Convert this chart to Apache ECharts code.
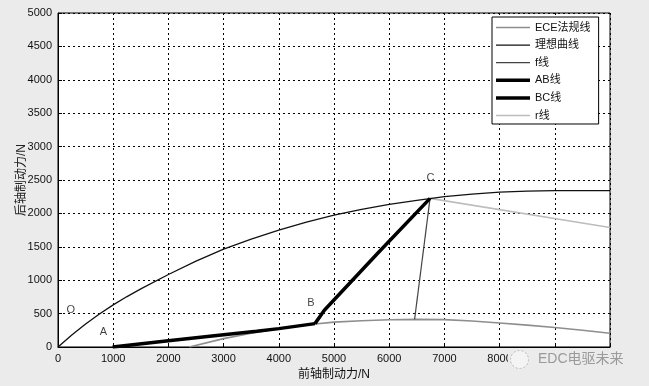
<!DOCTYPE html>
<html>
<head>
<meta charset="utf-8">
<script src="https://cdn.jsdelivr.net/npm/echarts@6/dist/echarts.min.js"></script>
<style>
html,body{margin:0;padding:0;background:#ebebeb;}
#c{width:649px;height:386px;}
</style>
</head>
<body>
<div id="c"></div>
<script>
// Data (front axle braking force N, rear axle braking force N)
var eceLine = [[2380,0],[3000,125],[3500,205],[4000,272],[4655,345],[5000,372],[5500,393],[6000,407],[6500,414],[7000,410],[7500,390],[8000,360],[8500,328],[9000,292],[9500,250],[10000,205]];
var idealCurve = [[0,0],[250,180],[500,345],[750,495],[1000,630],[1250,755],[1500,870],[2000,1085],[2500,1285],[3000,1465],[3500,1615],[4000,1750],[4500,1870],[5000,1975],[5500,2060],[6000,2135],[6500,2195],[7000,2250],[7500,2290],[8000,2318],[8500,2333],[9000,2340],[10000,2342]];
var fLine = [[6460,414],[6740,2225]];
var abLine = [[990,0],[2000,95],[3000,185],[3600,235],[4000,275],[4655,350]];
var bcLine = [[4655,350],[4825,550],[5800,1410],[6740,2225]];
var rLine = [[6740,2225],[10000,1790]];
var pointLabels = [["O",230,560],["A",825,225],["B",4583,660],["C",6748,2525]];
var xTicks = [0,1000,2000,3000,4000,5000,6000,7000,8000];
var seriesNames = ["ECE法规线","理想曲线","f线","AB线","BC线","r线"];

var FONT = "'Liberation Sans', Arial, 'Noto Sans CJK SC', sans-serif";
var chart = echarts.init(document.getElementById('c'), null, {renderer:'canvas'});
function lineSeries(name, data, color, width, z){
  return {name:name, type:'line', data:data, symbol:'none', showSymbol:false, smooth:false,
    lineStyle:{color:color, width:width}, itemStyle:{color:color}, z:z, silent:true, animation:false};
}
function icon(h){ return 'path://M0,0 L34,0 L34,' + h + ' L0,' + h + ' Z'; }
var legendWidths = [1.6,1.3,1.2,3.5,3.5,1.6];
var option = {
  backgroundColor:'#ebebeb',
  animation:false,
  grid:{left:58, right:39, top:13, bottom:39, show:true, backgroundColor:'#fff', borderColor:'#000', borderWidth:1},
  xAxis:{type:'value', min:0, max:10000, interval:1000,
    name:'前轴制动力/N', nameLocation:'middle', nameGap:22,
    nameTextStyle:{fontFamily:FONT, fontSize:12, color:'#111'},
    axisLine:{show:true, lineStyle:{color:'#000'}},
    axisTick:{show:true, inside:true, length:4, lineStyle:{color:'#000'}},
    axisLabel:{fontFamily:FONT, fontSize:11, color:'#111', margin:6,
      formatter:function(v){return xTicks.indexOf(v)>=0 ? String(v) : '';}},
    splitLine:{show:true, lineStyle:{color:'#000', type:[2,3], width:1}}
  },
  yAxis:{type:'value', min:0, max:5000, interval:500,
    name:'后轴制动力/N', nameLocation:'middle', nameGap:30, nameMoveOverlap:false,
    nameTextStyle:{fontFamily:FONT, fontSize:12, color:'#222'},
    axisLine:{show:true, lineStyle:{color:'#000'}},
    axisTick:{show:true, inside:true, length:4, lineStyle:{color:'#000'}},
    axisLabel:{fontFamily:FONT, fontSize:11, color:'#111', margin:6,
      formatter:function(v){return String(v);}},
    splitLine:{show:true, lineStyle:{color:'#000', type:[2,3], width:1}}
  },
  legend:{show:true, orient:'vertical', left:492, top:17,
    data:seriesNames.map(function(n,i){return {name:n, icon:icon(legendWidths[i])};}),
    backgroundColor:'#fff', borderColor:'#000', borderWidth:1,
    padding:[5,8,3,4], itemWidth:34, itemHeight:10, itemGap:6.6,
    textStyle:{fontFamily:FONT, fontSize:11, color:'#111'}},
  series:[
    lineSeries(seriesNames[0], eceLine, '#8e8e8e', 1.6, 2),
    lineSeries(seriesNames[1], idealCurve, '#111', 1.3, 3),
    lineSeries(seriesNames[2], fLine, '#444', 1.2, 3),
    lineSeries(seriesNames[3], abLine, '#000', 3.5, 5),
    lineSeries(seriesNames[4], bcLine, '#000', 3.5, 5),
    lineSeries(seriesNames[5], rLine, '#bdbdbd', 1.6, 2),
    {type:'scatter', data:pointLabels.map(function(p){return {name:p[0], value:[p[1],p[2]]};}),
      symbolSize:0, silent:true, z:6,
      label:{show:true, position:'inside', formatter:function(p){return p.name;},
        fontFamily:FONT, fontSize:11, color:'#111'}}
  ],
  graphic:[
    {type:'rect', left:508, top:348, shape:{width:130, height:22}, style:{fill:'#ebebeb'}, z:100},
    {type:'circle', left:510, top:350, shape:{r:9}, style:{fill:'#f4f4f4', stroke:'#b8b8b8', lineWidth:1, lineDash:[2,2]}, z:101},
    {type:'text', left:538, top:352, style:{text:'EDC电驱未来', fill:'#9a9a9a', font:'14px '+FONT}, z:101}
  ]
};
chart.setOption(option);
</script>
</body>
</html>
